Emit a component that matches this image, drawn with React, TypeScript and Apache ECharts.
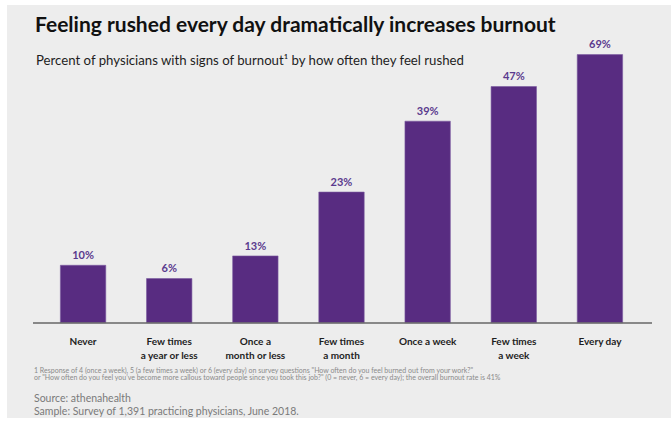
import React, { useEffect, useRef } from "react";
import * as echarts from "echarts";

// How often physicians feel rushed
const categories = [
  "Never",
  "Few times\na year or less",
  "Once a\nmonth or less",
  "Few times\na month",
  "Once a week",
  "Few times\na week",
  "Every day",
];
// Printed percentages (value labels)
const burnoutPct = [10, 6, 13, 23, 39, 47, 69];
// Bar heights as drawn in the source graphic (in the same % units; the source is not to scale)
const drawnHeight = [14.9, 11.5, 17.3, 33.7, 51.9, 60.8, 69];

const titleText = "Feeling rushed every day dramatically increases burnout";
const subtitleText = "Percent of physicians with signs of burnout\u00b9 by how often they feel rushed";
const footnote1 =
  '1 Response of 4 (once a week), 5 (a few times a week) or 6 (every day) on survey questions "How often do you feel burned out from your work?"';
const footnote2 =
  'or "How often do you feel you\u2019ve become more callous toward people since you took this job?" (0 = never, 6 = every day); the overall burnout rate is 41%';
const sourceText = "Source: athenahealth";
const sampleText = "Sample: Survey of 1,391 practicing physicians, June 2018.";

const FONT = "Lato, 'Open Sans', sans-serif";

export default function App() {
  const ref = useRef<HTMLDivElement>(null);
  useEffect(() => {
    if (!ref.current) return;
    const chart = echarts.init(ref.current, null, { renderer: "svg" });
    chart.setOption({
      animation: false,
      backgroundColor: "#ffffff",
      grid: { left: 40, right: 28, top: 50.4, bottom: 100, containLabel: false },
      xAxis: {
        type: "category",
        data: categories,
        axisLine: { show: false },
        axisTick: { show: false },
        axisLabel: {
          interval: 0,
          margin: 11,
          fontFamily: FONT,
          fontWeight: "bold",
          fontSize: 10,
          lineHeight: 14,
          color: "#1e1e1e",
        },
      },
      yAxis: {
        type: "value",
        min: 0,
        max: 70,
        show: false,
        splitLine: { show: false },
      },
      series: [
        {
          type: "bar",
          data: drawnHeight,
          barWidth: 46,
          z: 5,
          itemStyle: { color: "#582c81", borderColor: "#7b5aa0", borderWidth: 0.6 },
          label: {
            show: true,
            position: "top",
            distance: 5,
            formatter: (p: any) => burnoutPct[p.dataIndex] + "%",
            fontFamily: FONT,
            fontWeight: "bold",
            fontSize: 11,
            color: "#5a3a8e",
          },
        },
      ],
      graphic: [
        {
          type: "rect",
          z: -10,
          silent: true,
          shape: { x: 7, y: 5, width: 664, height: 413 },
          style: { fill: "#ededed" },
        },
        {
          type: "line",
          z: 6,
          silent: true,
          shape: { x1: 33, y1: 323, x2: 652, y2: 323 },
          style: { stroke: "#666666", lineWidth: 1.4 },
        },
        {
          type: "text",
          x: 35,
          y: 13,
          style: {
            text: titleText,
            fontFamily: FONT,
            fontWeight: "bold",
            fontSize: 21,
            fill: "#111111",
          },
        },
        {
          type: "text",
          x: 36,
          y: 53,
          style: {
            text: subtitleText,
            fontFamily: FONT,
            fontSize: 13.2,
            fill: "#1e1e1e",
          },
        },
        {
          type: "text",
          x: 34,
          y: 366,
          style: { text: footnote1, fontFamily: FONT, fontSize: 7, fill: "#8a8a8a" },
        },
        {
          type: "text",
          x: 34,
          y: 373.5,
          style: { text: footnote2, fontFamily: FONT, fontSize: 7, fill: "#8a8a8a" },
        },
        {
          type: "text",
          x: 34,
          y: 392,
          style: { text: sourceText, fontFamily: FONT, fontSize: 10.5, fill: "#7a7a7a" },
        },
        {
          type: "text",
          x: 34,
          y: 405,
          style: { text: sampleText, fontFamily: FONT, fontSize: 10.5, fill: "#7a7a7a" },
        },
      ],
    });
    return () => chart.dispose();
  }, []);
  return (
    <div
      ref={ref}
      style={{ position: "absolute", left: 0, top: 0, width: 671, height: 423 }}
    />
  );
}
